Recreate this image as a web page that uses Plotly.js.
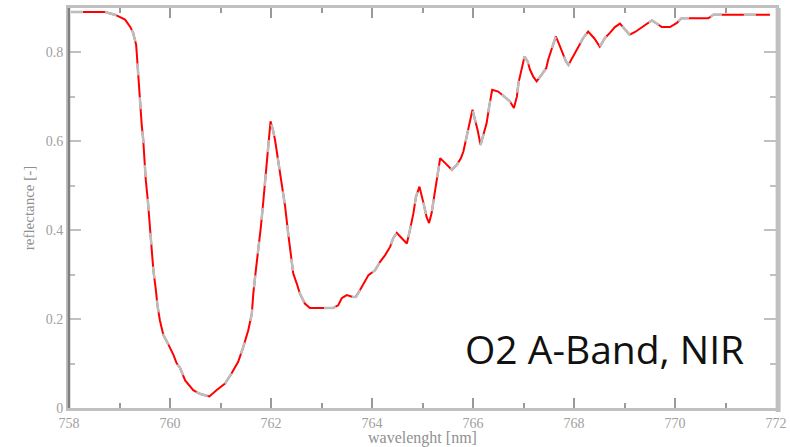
<!DOCTYPE html>
<html>
<head>
<meta charset="utf-8">
<script src="https://cdn.plot.ly/plotly-3.0.1.min.js"></script>
<style>html,body{margin:0;padding:0;background:#fff;}#chart{width:790px;height:447px;}</style>
</head>
<body>
<div id="chart"></div>
<script>
// wavelength [nm]
const wavelength = [758.04,758.71,758.91,759.11,759.21,759.27,759.33,759.35,759.39,759.41,759.44,759.47,759.49,759.52,759.56,759.59,759.62,759.67,759.72,759.75,759.80,759.87,759.95,760.07,760.13,760.20,760.30,760.38,760.46,760.59,760.78,760.92,761.09,761.22,761.35,761.45,761.55,761.62,761.65,761.70,761.75,761.80,761.85,761.88,761.91,761.95,761.99,762.04,762.08,762.14,762.21,762.28,762.34,762.40,762.44,762.51,762.57,762.67,762.77,763.23,763.33,763.40,763.50,763.62,763.68,763.76,763.83,763.93,764.06,764.16,764.26,764.36,764.42,764.49,764.59,764.69,764.75,764.82,764.87,764.94,765.02,765.08,765.13,765.18,765.23,765.29,765.35,765.45,765.58,765.68,765.76,765.81,765.88,765.93,765.99,766.04,766.09,766.15,766.20,766.27,766.32,766.38,766.50,766.61,766.73,766.81,766.87,766.90,766.96,767.02,767.08,767.13,767.19,767.26,767.36,767.45,767.49,767.54,767.59,767.64,767.71,767.78,767.84,767.89,767.95,768.05,768.18,768.28,768.40,768.51,768.61,768.71,768.81,768.91,769.01,769.10,769.21,769.34,769.44,769.54,769.64,769.74,769.90,770.03,770.13,770.50,770.66,770.76,771.29,771.88];
// reflectance [-]
const reflectance = [0.891,0.891,0.885,0.874,0.858,0.844,0.817,0.784,0.716,0.671,0.637,0.603,0.558,0.513,0.468,0.423,0.367,0.311,0.266,0.232,0.197,0.164,0.147,0.119,0.101,0.090,0.062,0.050,0.040,0.032,0.026,0.040,0.055,0.078,0.104,0.137,0.175,0.212,0.258,0.310,0.355,0.408,0.468,0.506,0.558,0.596,0.645,0.625,0.603,0.558,0.506,0.453,0.393,0.340,0.303,0.280,0.258,0.235,0.225,0.225,0.231,0.247,0.254,0.250,0.250,0.265,0.280,0.299,0.310,0.329,0.344,0.363,0.382,0.394,0.382,0.370,0.400,0.438,0.475,0.498,0.461,0.430,0.416,0.438,0.475,0.521,0.562,0.551,0.536,0.547,0.562,0.577,0.611,0.641,0.671,0.648,0.626,0.592,0.611,0.641,0.678,0.716,0.712,0.701,0.690,0.675,0.701,0.731,0.761,0.791,0.780,0.761,0.746,0.735,0.750,0.765,0.784,0.802,0.823,0.836,0.817,0.795,0.780,0.772,0.784,0.806,0.832,0.847,0.832,0.813,0.832,0.844,0.857,0.865,0.851,0.840,0.846,0.857,0.865,0.872,0.865,0.857,0.857,0.866,0.877,0.877,0.877,0.885,0.885,0.885];
const xTickVals = [758,760,762,764,766,768,770,772];
const yTickVals = [0,0.2,0.4,0.6,0.8];

const serif = 'Liberation Serif, DejaVu Serif, serif';
const tickFont = {family:serif, size:14, color:'#a0a0a0'};
const traces = [
  {x:wavelength, y:reflectance, mode:'lines', line:{color:'#ff0000', width:2}, hoverinfo:'skip'},
  {x:wavelength, y:reflectance, mode:'lines', line:{color:'#bdbdbd', width:2.5, dash:'12px,22px'}, hoverinfo:'skip'}
];
const layout = {
  width:790, height:447,
  margin:{l:69, r:14, t:8, b:39},
  paper_bgcolor:'#ffffff', plot_bgcolor:'#ffffff',
  showlegend:false,
  xaxis:{range:[758,772], tickvals:xTickVals, ticks:'inside', ticklen:10, tickwidth:2, tickcolor:'#9a9a9a',
    minor:{dtick:1, tick0:758, ticks:'inside', ticklen:5, tickwidth:2, tickcolor:'#9a9a9a', showgrid:false},
    showgrid:false, zeroline:false, showline:true, linecolor:'#c0c0c0', linewidth:3, mirror:'allticks',
    tickfont:tickFont, automargin:false,
    title:{text:'wavelenght [nm]', font:{family:serif, size:16, color:'#909090'}, standoff:3}},
  yaxis:{range:[0,0.9], tickvals:yTickVals, ticks:'inside', ticklen:12, tickwidth:2, tickcolor:'#c0c0c0',
    minor:{dtick:0.1, tick0:0, ticks:'inside', ticklen:6, tickwidth:2, tickcolor:'#c0c0c0', showgrid:false},
    showgrid:false, zeroline:false, showline:true, linecolor:'#c0c0c0', linewidth:3, mirror:'allticks',
    tickfont:tickFont, automargin:false,
    title:{text:'reflectance [-]', font:{family:serif, size:15, color:'#909090'}, standoff:8}},
  shapes:[
    {type:'line', xref:'paper', yref:'paper', x0:0, x1:0, y0:0, y1:1, line:{color:'#808080', width:2.5}},
    {type:'line', xref:'paper', yref:'paper', x0:1.003, x1:1.003, y0:-0.01, y1:1, line:{color:'#c0c0c0', width:5}}
  ],
  annotations:[
    {text:'O2 A-Band, NIR', xref:'paper', yref:'paper', x:0.957, y:0.078, xanchor:'right', yanchor:'bottom',
     showarrow:false, font:{family:'Open Sans, sans-serif', size:39, color:'#111111'}}
  ]
};
Plotly.newPlot('chart', traces, layout, {staticPlot:true, displayModeBar:false});
</script>
</body>
</html>
